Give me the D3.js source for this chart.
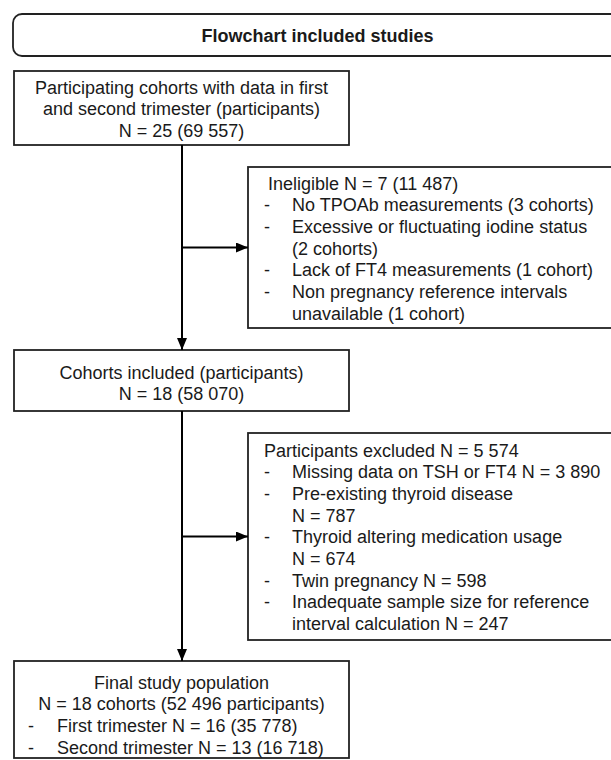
<!DOCTYPE html>
<html>
<head>
<meta charset="utf-8">
<script src="https://cdn.jsdelivr.net/npm/d3@7"></script>
<style>
  body { margin: 0; background: #fff; }
  text { font-family: "Liberation Sans", Arial, sans-serif; fill: #1a1a1a; }
</style>
</head>
<body>
<svg id="canvas" width="611" height="760"></svg>
<script>
// chart content
let titleText = "Flowchart included studies";

let box1Lines = [
  "Participating cohorts with data in first",
  "and second trimester (participants)",
  "N = 25 (69 557)"
];

let ineligibleHeader = " Ineligible N = 7 (11 487)";
let ineligibleItems = [
  ["No TPOAb measurements (3 cohorts)"],
  ["Excessive or fluctuating iodine status", "(2 cohorts)"],
  ["Lack of FT4 measurements (1 cohort)"],
  ["Non pregnancy reference intervals", "unavailable (1 cohort)"]
];

let box2Lines = [
  "Cohorts included (participants)",
  "N = 18 (58 070)"
];

let excludedHeader = "Participants excluded N = 5 574";
let excludedItems = [
  ["Missing data on TSH or FT4 N = 3 890"],
  ["Pre-existing thyroid disease", "N = 787"],
  ["Thyroid altering medication usage", "N = 674"],
  ["Twin pregnancy N = 598"],
  ["Inadequate sample size for reference", "interval calculation N = 247"]
];

let finalLines = [
  "Final study population",
  "N = 18 cohorts (52 496 participants)"
];
let finalItems = [
  ["First trimester N = 16 (35 778)"],
  ["Second trimester N = 13 (16 718)"]
];

let canvas = d3.select("#canvas");

const lineH = 21.7;
const fontSize = 18;
const mainLeft = 14, mainRight = 349;
const sideLeft = 248, sideRight = 622;
const stemX = 182;

canvas.append("defs").append("marker")
  .attr("id", "arrow")
  .attr("viewBox", "0 0 12 10")
  .attr("refX", 12)
  .attr("refY", 5)
  .attr("markerWidth", 12)
  .attr("markerHeight", 10)
  .attr("markerUnits", "userSpaceOnUse")
  .attr("orient", "auto")
  .append("path")
  .attr("d", "M0,0 L12,5 L0,10 Z")
  .attr("fill", "#000");

// turn header + bullet items into flat rows
let toRows = (header, items) => {
  let rows = [];
  if (header) header.forEach((t) => rows.push({ text: t, kind: "center" }));
  items.forEach((item) => {
    item.forEach((t, i) => rows.push({ text: t, kind: "item", dash: i === 0 }));
  });
  return rows;
};

let drawBox = (box) => {
  let g = canvas.append("g");
  g.append("rect")
    .attr("x", box.x0)
    .attr("y", box.y0)
    .attr("width", box.x1 - box.x0)
    .attr("height", box.y1 - box.y0)
    .attr("rx", box.rx || 0)
    .attr("fill", "none")
    .attr("stroke", "#222")
    .attr("stroke-width", 1.8);

  let rows = g.selectAll("g.row")
    .data(box.rows)
    .enter()
    .append("g")
    .attr("class", "row")
    .attr("transform", (d, i) => "translate(0," + (box.first + i * lineH + 6.5) + ")");

  rows.append("text")
    .attr("x", (d) => d.kind === "center" ? (box.x0 + box.x1) / 2 : d.kind === "head" ? box.headX : box.itemX)
    .attr("text-anchor", (d) => d.kind === "center" ? "middle" : "start")
    .attr("font-size", (box.size || fontSize) + "px")
    .attr("font-weight", box.bold ? "bold" : "normal")
    .attr("xml:space", "preserve")
    .style("white-space", "pre")
    .text((d) => d.text);

  rows.filter((d) => d.dash)
    .append("text")
    .attr("x", box.dashX)
    .attr("font-size", fontSize + "px")
    .text("-");
};

// title
drawBox({ x0: 13, x1: 622, y0: 14, y1: 56, rx: 9, first: 35, bold: true, size: 18,
  rows: [{ text: titleText, kind: "center" }] });

let box1 = { x0: mainLeft, x1: mainRight, y0: 71, y1: 145, first: 87,
  rows: toRows(box1Lines, []) };
let inel = { x0: sideLeft, x1: sideRight, y0: 167, y1: 328, first: 183, headX: 263, itemX: 292, dashX: 264,
  rows: [{ text: ineligibleHeader, kind: "head" }].concat(toRows(null, ineligibleItems)) };
let box2 = { x0: mainLeft, x1: mainRight, y0: 350, y1: 411, first: 372,
  rows: toRows(box2Lines, []) };
let excl = { x0: sideLeft, x1: sideRight, y0: 433, y1: 640, first: 450, headX: 264, itemX: 292, dashX: 264,
  rows: [{ text: excludedHeader, kind: "head" }].concat(toRows(null, excludedItems)) };
let fin = { x0: mainLeft, x1: mainRight, y0: 661, y1: 758, first: 682, itemX: 57, dashX: 28,
  rows: toRows(finalLines, finalItems) };

[box1, inel, box2, excl, fin].forEach(drawBox);

// connectors
let line = d3.line();
let connectors = [
  [[stemX, box1.y1], [stemX, box2.y0]],
  [[stemX, (inel.y0 + inel.y1) / 2], [inel.x0, (inel.y0 + inel.y1) / 2]],
  [[stemX, box2.y1], [stemX, fin.y0]],
  [[stemX, (excl.y0 + excl.y1) / 2], [excl.x0, (excl.y0 + excl.y1) / 2]]
];

canvas.selectAll("path.link")
  .data(connectors)
  .enter()
  .append("path")
  .attr("class", "link")
  .attr("d", (d) => line(d))
  .attr("fill", "none")
  .attr("stroke", "#000")
  .attr("stroke-width", 2)
  .attr("marker-end", "url(#arrow)");
</script>
</body>
</html>
